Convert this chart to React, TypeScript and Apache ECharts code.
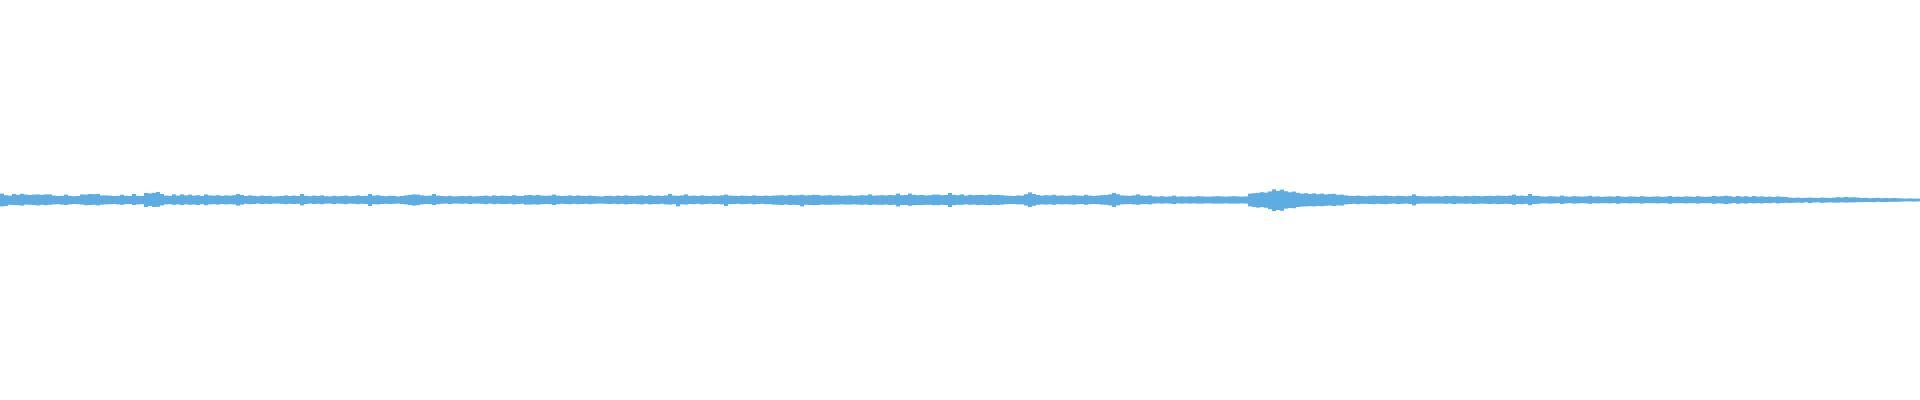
import React, { useEffect, useRef } from "react";
import * as echarts from "echarts";

// Waveform envelope, one value per 4px-wide time bin (amplitude, % of full scale).
// Upper = positive peak, lower = magnitude of negative peak.
const upperSeg1 = [3.2,2.4,2.2,3.0,2.6,3.1,2.7,2.5,2.7,2.8,2.6,2.8,2.8,2.2,2.0,2.1,2.7,2.1,1.9,2.0,2.8,2.7,3.0,2.9,3.0,2.3,2.3,2.2,2.0,2.1,2.6,2.1,2.0,3.0,2.1,2.0,3.5,3.3,3.6,4.0,3.0,2.2,2.1,2.8,2.2,2.8,2.3,2.7];
const lowerSeg1 = [3.2,3.0,2.4,2.5,2.6,2.8,2.3,2.4,2.5,2.7,2.4,2.6,2.4,2.2,2.1,2.3,2.5,2.2,2.0,2.1,2.3,2.6,2.5,2.4,2.7,2.3,2.2,2.1,2.0,2.2,2.4,2.1,2.0,2.5,2.2,2.1,3.5,3.0,3.5,3.4,2.7,2.2,2.1,2.4,2.2,2.5,2.2,2.4];
const upperSeg2 = [2.2,2.4,2.0,2.8,2.3,2.2,2.4,2.1,2.3,2.2,2.4,3.0,2.5,2.0,2.3,2.1,1.9,2.2,2.0,2.1,1.8,1.9,2.0,2.3,2.0,2.2,2.0,3.0,2.1,1.9,2.2,2.0,2.3,1.9,1.8,2.1,1.9,2.0,2.2,1.9,2.0,2.3,2.0,2.1,3.0,2.2,2.4,2.1];
const lowerSeg2 = [2.3,2.5,2.1,2.6,2.2,2.1,2.3,2.0,2.2,2.1,2.2,2.8,2.3,1.9,2.1,2.0,1.8,2.0,1.9,2.0,1.8,1.8,1.9,2.1,1.9,2.0,1.9,2.7,2.0,1.8,2.0,1.9,2.1,1.8,1.8,2.0,1.8,1.9,2.1,1.8,1.9,2.1,1.9,2.0,3.0,2.1,2.2,2.0];
const upperSeg3 = [1.9,2.1,2.0,1.8,2.0,2.3,2.6,2.8,2.7,2.3,2.1,2.2,3.0,2.2,2.0,1.9,2.1,1.8,1.9,2.0,1.9,2.1,1.8,1.9,2.0,2.2,1.9,2.3,2.0,2.2,2.1,2.0,2.4,2.1,2.0,2.4,2.5,2.3,2.5,2.2,2.1,2.2,2.7,2.2,2.0,2.1,2.3,2.0];
const lowerSeg3 = [1.9,2.0,1.9,1.8,2.0,2.2,2.5,2.8,2.6,2.2,2.0,2.1,2.5,2.1,1.9,1.8,2.0,1.8,1.8,1.9,1.8,2.0,1.8,1.8,1.9,2.1,1.8,2.1,1.9,2.0,2.0,1.9,2.2,2.0,1.9,2.3,2.3,2.2,2.3,2.1,2.0,2.1,2.5,2.1,1.9,2.0,2.1,1.9];
const upperSeg4 = [2.3,2.1,2.0,2.2,2.0,1.9,1.8,2.0,2.1,1.9,2.2,2.0,2.3,2.1,2.0,2.2,2.3,2.0,2.4,2.1,2.2,2.0,2.3,3.0,2.2,2.1,2.3,2.8,2.1,2.2,2.0,2.3,2.1,2.0,2.2,2.1,2.3,2.7,2.2,2.1,2.0,2.2,2.1,2.0,2.3,2.1,2.0,2.2];
const lowerSeg4 = [2.1,2.0,1.9,2.1,1.9,1.8,1.8,1.9,2.0,1.9,2.1,1.9,2.2,2.0,1.9,2.1,2.2,1.9,2.2,2.0,2.1,1.9,2.2,2.3,2.1,3.2,2.2,2.3,2.0,2.1,1.9,2.2,2.0,1.9,2.1,2.0,2.2,3.0,2.1,2.0,1.9,2.1,2.0,1.9,2.2,2.0,1.9,2.1];
const upperSeg5 = [2.0,2.2,2.3,2.4,2.2,2.5,2.3,2.4,2.6,2.3,2.4,2.6,2.5,2.2,2.3,2.4,2.2,2.3,2.1,2.2,2.3,2.1,2.2,2.4,2.3,2.8,2.2,2.3,2.4,2.3,2.5,2.4,3.2,2.4,2.5,3.2,2.6,2.4,2.5,2.3,2.4,2.7,2.7,2.4,2.5,3.5,2.6,2.4];
const lowerSeg5 = [2.1,2.3,2.4,2.5,2.3,2.5,2.4,2.5,3.2,2.4,2.5,2.6,2.5,2.3,2.4,2.4,2.3,2.3,2.2,2.3,2.3,2.2,2.3,2.4,2.3,2.5,2.3,2.4,2.4,2.3,2.5,2.4,3.2,2.5,2.5,2.9,2.6,2.5,2.5,2.4,2.4,2.6,2.6,2.4,2.5,3.5,2.6,2.4];
const upperSeg6 = [2.8,2.2,2.6,2.4,2.5,2.6,2.4,2.7,2.5,2.6,2.4,2.2,2.1,2.0,2.3,2.2,2.9,3.8,3.0,2.5,2.2,2.4,2.3,2.6,2.2,2.3,2.1,2.2,2.4,2.2,2.1,2.6,2.2,2.0,2.2,2.4,2.5,2.8,3.5,2.9,2.3,2.2,2.1,2.3,2.8,2.2,2.1,2.3];
const lowerSeg6 = [2.4,2.2,2.4,2.3,2.5,2.4,2.5,2.6,2.4,2.5,2.3,2.1,2.0,2.0,2.2,2.2,2.8,3.5,2.9,2.4,2.2,2.3,2.2,2.4,2.1,2.2,2.1,2.2,2.3,2.1,2.0,2.4,2.1,2.0,2.1,2.3,2.4,2.7,3.5,2.7,2.2,2.1,2.0,2.2,2.4,2.1,2.0,2.2];
const upperSeg7 = [1.8,1.7,1.9,1.7,1.8,2.2,1.7,1.8,1.7,1.8,1.7,1.9,1.8,1.7,1.7,1.8,1.9,1.8,1.7,1.8,1.9,1.8,1.7,1.8,3.2,3.4,3.6,3.9,3.7,4.3,5.3,4.6,5.2,4.4,3.9,4.2,3.6,3.2,3.4,3.0,3.3,2.9,3.2,2.8,3.0,3.1,2.6,2.7];
const lowerSeg7 = [1.8,1.7,1.8,1.7,1.8,2.0,1.7,1.8,1.7,1.8,1.7,1.8,1.8,1.7,1.7,1.8,1.8,1.8,1.7,1.8,1.8,1.8,1.7,1.8,3.2,3.5,3.8,3.6,3.9,4.6,5.6,5.0,5.4,4.3,4.0,4.1,3.5,3.3,3.2,3.1,3.2,3.0,3.1,2.9,2.8,3.0,2.7,2.8];
const upperSeg8 = [2.3,2.1,2.0,2.2,2.0,1.9,2.1,2.2,2.0,2.1,2.2,2.0,1.9,2.1,2.0,1.9,2.1,2.8,2.0,1.9,1.8,1.9,1.8,1.9,1.8,2.0,1.9,2.1,1.9,1.8,2.0,1.9,2.1,2.0,1.9,2.0,2.1,2.0,2.2,2.1,2.0,2.2,2.7,2.1,2.2,2.0,3.0,2.1];
const lowerSeg8 = [2.2,2.0,1.9,2.1,1.9,1.9,2.0,2.1,1.9,2.0,2.1,1.9,1.8,2.0,1.9,1.8,2.0,2.7,1.9,1.8,1.8,1.8,1.8,1.8,1.8,1.9,1.8,2.0,1.8,1.8,1.9,1.8,2.0,1.9,1.8,1.9,2.0,1.9,2.1,2.0,1.9,2.0,2.4,2.0,2.1,1.9,2.6,2.0];
const upperSeg9 = [2.0,1.8,1.7,1.9,1.8,1.7,2.2,1.8,1.7,1.9,1.8,1.7,1.8,2.1,1.7,1.8,1.6,1.7,1.8,1.7,2.0,1.7,1.6,1.8,1.7,1.6,1.9,1.7,1.6,1.7,1.8,1.6,1.7,2.0,1.6,1.7,1.6,1.8,1.7,1.6,1.9,1.7,1.6,1.7,2.0,1.8,1.9,2.1];
const lowerSeg9 = [1.9,1.7,1.7,1.8,1.7,1.6,2.0,1.7,1.6,1.8,1.7,1.6,1.7,1.9,1.6,1.7,1.6,1.6,1.7,1.6,1.9,1.6,1.6,1.7,1.6,1.6,1.8,1.6,1.6,1.6,1.7,1.6,1.6,1.9,1.6,1.6,1.6,1.7,1.6,1.6,1.8,1.6,1.6,1.6,1.9,1.7,1.8,2.0];
const upperSeg10 = [1.9,1.6,2.0,1.7,1.9,1.6,2.0,1.7,1.8,1.6,1.7,1.5,1.8,1.6,1.5,1.2,1.1,1.2,1.0,1.1,1.2,1.1,1.0,1.2,1.1,1.0,1.2,1.4,1.3,1.5,1.3,1.4,1.2,1.0,1.1,0.9,1.0,1.1,0.9,1.0,0.9,1.0,0.9,0.8,0.7,0.8,0.7,0.7];
const lowerSeg10 = [1.8,1.5,1.9,1.6,1.8,1.5,1.7,1.6,1.7,1.5,1.6,1.4,1.7,1.5,1.4,1.5,1.4,1.3,1.4,1.2,1.5,1.3,1.2,1.4,1.3,1.2,1.3,1.3,1.2,1.3,1.2,1.2,1.1,1.1,1.0,1.0,1.1,0.9,1.0,1.0,0.9,0.9,0.9,0.8,0.7,0.7,0.8,0.7];

const upperEnvelope = [
  ...upperSeg1, ...upperSeg2, ...upperSeg3, ...upperSeg4, ...upperSeg5,
  ...upperSeg6, ...upperSeg7, ...upperSeg8, ...upperSeg9, ...upperSeg10,
];
const lowerEnvelope = [
  ...lowerSeg1, ...lowerSeg2, ...lowerSeg3, ...lowerSeg4, ...lowerSeg5,
  ...lowerSeg6, ...lowerSeg7, ...lowerSeg8, ...lowerSeg9, ...lowerSeg10,
];

const WAVE_COLOR = "#5dade2";

export default function App() {
  const ref = useRef<HTMLDivElement | null>(null);

  useEffect(() => {
    if (!ref.current) return;
    const chart = echarts.init(ref.current, null, { renderer: "svg" });

    const bins = upperEnvelope.map((_, i) => String(i));
    const negLower = lowerEnvelope.map((v) => -v);

    chart.setOption({
      animation: false,
      backgroundColor: "#ffffff",
      grid: { left: 0, right: 0, top: 0, bottom: 0, containLabel: false },
      xAxis: {
        type: "category",
        data: bins,
        show: false,
      },
      yAxis: {
        type: "value",
        min: -100,
        max: 100,
        show: false,
      },
      series: [
        {
          name: "upper",
          type: "bar",
          stack: "wave",
          data: upperEnvelope,
          barCategoryGap: "0%",
          silent: true,
          itemStyle: { color: WAVE_COLOR },
        },
        {
          name: "lower",
          type: "bar",
          stack: "wave",
          data: negLower,
          barCategoryGap: "0%",
          silent: true,
          itemStyle: { color: WAVE_COLOR },
        },
      ],
    });

    return () => chart.dispose();
  }, []);

  return (
    <div
      ref={ref}
      style={{ position: "absolute", left: 0, top: 0, width: 1920, height: 400 }}
    />
  );
}
